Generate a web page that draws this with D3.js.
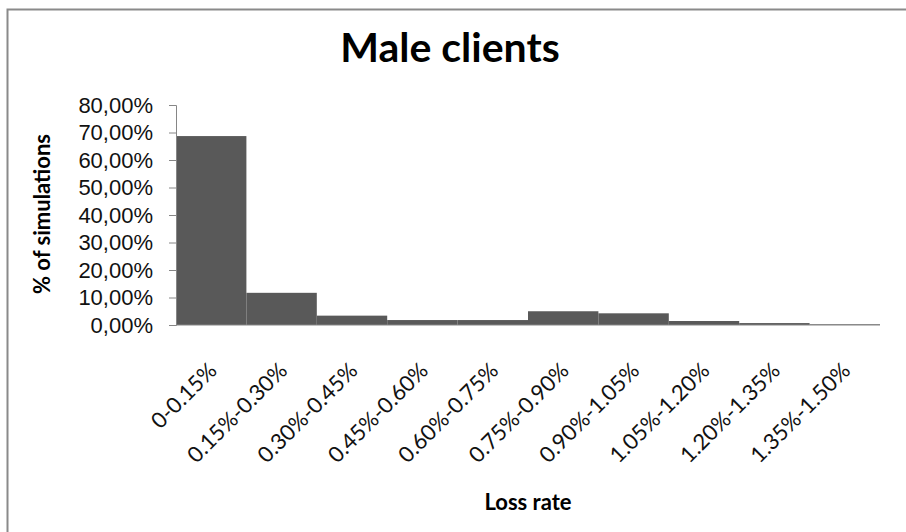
<!DOCTYPE html>
<html>
<head>
<meta charset="utf-8">
<script src="https://cdn.jsdelivr.net/npm/d3@7"></script>
<style>
  body { margin: 0; background: #fff; }
  svg { display: block; font-family: Lato, "Open Sans", sans-serif; }
</style>
</head>
<body>
<svg id="chart" width="906" height="532"></svg>
<script>
// loss rate buckets and share of simulations (%)
var categories = ["0-0.15%", "0.15%-0.30%", "0.30%-0.45%", "0.45%-0.60%", "0.60%-0.75%",
                  "0.75%-0.90%", "0.90%-1.05%", "1.05%-1.20%", "1.20%-1.35%", "1.35%-1.50%"]
var shares = [68.7, 11.7, 3.4, 1.8, 1.8, 5.0, 4.25, 1.45, 0.7, 0.25]
var yTicks = [0, 10, 20, 30, 40, 50, 60, 70, 80]

var svg = d3.select("#chart"),
    margin = {top: 105, right: 26, bottom: 207, left: 176},
    width  = +svg.attr("width")  - margin.left - margin.right,
    height = +svg.attr("height") - margin.top  - margin.bottom;

// outer chart frame (only top and left edges show in the picture)
svg.append("path")
  .attr("d", "M7.5,532 V9.5 H906")
  .attr("fill", "none")
  .attr("stroke", "#8a8a8a")
  .attr("stroke-width", 2);

var x = d3.scaleBand().domain(categories).range([0, width]).padding(0);
var y = d3.scaleLinear().domain([0, 80]).range([height, 0]);

var g = svg.append("g")
  .attr("transform", "translate(" + margin.left + "," + margin.top + ")");

g.selectAll(".bar")
  .data(shares)
  .enter().append("rect")
    .attr("class", "bar")
    .attr("x", function(d, i) { return x(categories[i]); })
    .attr("y", function(d) { return y(d); })
    .attr("width", x.bandwidth())
    .attr("height", function(d) { return height - y(d); })
    .attr("fill", "#595959");

// y axis
var yAxis = d3.axisLeft(y)
  .tickValues(yTicks)
  .tickSize(7)
  .tickPadding(16)
  .tickFormat(function(d) { return d3.format(".2f")(d).replace(".", ",") + "%"; });

var ya = g.append("g").attr("class", "axis axis--y").call(yAxis);
ya.select(".domain").attr("stroke", "#868686");
ya.selectAll(".tick line").attr("stroke", "#868686");
ya.selectAll(".tick text")
  .attr("fill", "#111")
  .style("font-size", "22px");

// x axis: baseline only, rotated labels
var xa = g.append("g")
  .attr("transform", "translate(0," + height + ")");
xa.append("line")
  .attr("x1", 0).attr("x2", width)
  .attr("stroke", "#868686");

xa.selectAll("text")
  .data(categories)
  .enter().append("text")
    .attr("transform", function(d) {
      return "translate(" + (x(d) + x.bandwidth() / 2 + 7) + ",47) rotate(-45)";
    })
    .attr("text-anchor", "end")
    .attr("fill", "#111")
    .style("font-size", "22px")
    .text(function(d) { return d; });

// titles
svg.append("text")
  .attr("x", 450).attr("y", 62)
  .attr("text-anchor", "middle")
  .style("font-size", "41px")
  .style("font-weight", "bold")
  .text("Male clients");

svg.append("text")
  .attr("transform", "translate(50,214) rotate(-90)")
  .attr("text-anchor", "middle")
  .style("font-size", "22px")
  .style("font-weight", "bold")
  .text("% of simulations");

svg.append("text")
  .attr("x", margin.left + width / 2).attr("y", 510)
  .attr("text-anchor", "middle")
  .style("font-size", "22px")
  .style("font-weight", "bold")
  .text("Loss rate");
</script>
</body>
</html>
